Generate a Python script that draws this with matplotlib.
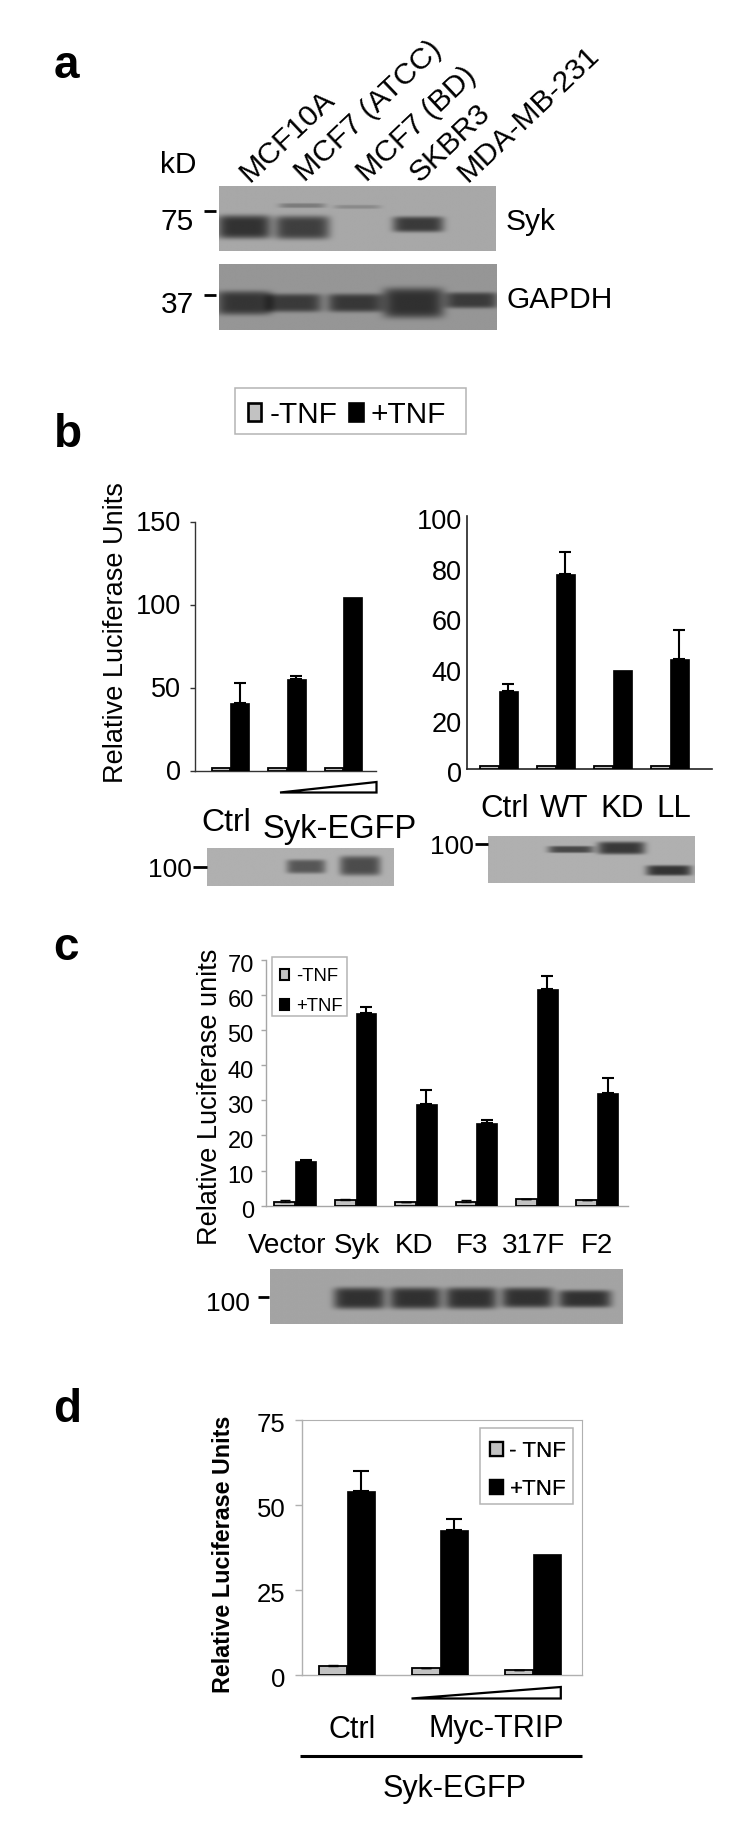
import numpy as np
import matplotlib
matplotlib.use("Agg")
import matplotlib.pyplot as plt
from matplotlib.patches import Patch, Polygon, Rectangle
from matplotlib.transforms import ScaledTranslation

plt.rcParams['font.family'] = ['Liberation Sans', 'DejaVu Sans']

# ---------- data ----------
lanes_a = ["MCF10A", "MCF7 (ATCC)", "MCF7 (BD)", "SKBR3", "MDA-MB-231"]

bl_minus = [2, 2, 2]
bl_plus = [40.8, 55.3, 105]
bl_err = [12.5, 1.7, 0]

br_labels = ["Ctrl", "WT", "KD", "LL"]
br_minus = [1.5, 1.5, 1.5, 1.5]
br_plus = [30.9, 77, 39.3, 43.7]
br_err = [2.6, 8.8, 0, 11.4]

c_labels = ["Vector", "Syk", "KD", "F3", "317F", "F2"]
c_minus = [1.1, 1.5, 1.1, 1.1, 2.0, 1.5]
c_minus_err = [0.4, 0.4, 0, 0.4, 0, 0]
c_plus = [12.7, 54.8, 29.0, 23.6, 61.5, 32.0]
c_err = [0.4, 1.7, 3.8, 0.8, 3.8, 4.3]

d_minus = [2.45, 2.0, 1.4]
d_minus_err = [0.45, 0, 0]
d_plus = [53.9, 42.7, 35.5]
d_err = [6.0, 3.2, 0]

# blot bands: lane centre, half width, row centre, half height, darkness
syk_bands = [(.09, .092, .63, .15, 118), (.30, .095, .64, .15, 105), (.30, .08, .30, .03, 45),
             (.50, .08, .32, .025, 30), (.72, .088, .59, .10, 110)]
gapdh_bands = [(.09, .095, .59, .15, 97), (.27, .095, .59, .115, 92), (.49, .095, .59, .115, 95),
               (.70, .105, .59, .19, 102), (.91, .09, .55, .10, 92)]
b1_bands = [(.53, .10, .50, .15, 90), (.82, .105, .48, .21, 100)]
b2_bands = [(.40, .105, .30, .06, 105), (.645, .11, .27, .11, 120), (.875, .105, .74, .09, 125)]
c_bands = [(.253, .07, .54, .16, 115), (.412, .07, .54, .16, 115), (.57, .07, .54, .16, 115),
           (.73, .07, .53, .15, 115), (.893, .072, .55, .13, 115)]

W, H = 750, 1827
GRAY = '#c2c2c2'
fig = plt.figure(figsize=(W / 100, H / 100), dpi=100, facecolor='white')


def axes_px(x0, y0, x1, y1, **kw):
    return fig.add_axes([x0 / W, 1 - y1 / H, (x1 - x0) / W, (y1 - y0) / H], **kw)


def gel(x0, y0, x1, y1, bands, bg):
    ax = axes_px(x0, y0, x1, y1)
    yy, xx = np.mgrid[0:1:200j, 0:1:400j]
    img = np.full(xx.shape, float(bg))
    for xc, hw, yc, hh, dark in bands:
        img -= dark * np.exp(-(np.abs(xx - xc) / (hw * 1.05)) ** 6) * np.exp(-(np.abs(yy - yc) / (hh * 1.2)) ** 5)
    ax.imshow(img, cmap='gray', vmin=0, vmax=255, extent=(0, 1, 1, 0), aspect='auto',
              interpolation='bilinear')
    ax.axis('off')
    return ax


def bars(ax, minus, plus, err, width, cap, minus_err=None):
    x = np.arange(len(plus))
    ax.bar(x - width / 2, minus, width, color=GRAY, edgecolor='black', linewidth=1.3,
           zorder=3, yerr=None if minus_err is None else [np.zeros(len(minus)), minus_err],
           error_kw=dict(ecolor='black', elinewidth=1.0, capsize=3.5, capthick=1.0))
    keep = np.array(err) > 0
    ax.bar(x + width / 2, plus, width, color='black', edgecolor='black', linewidth=0.5, zorder=3)
    ax.errorbar((x + width / 2)[keep], np.array(plus)[keep], yerr=[np.zeros(keep.sum()), np.array(err)[keep]],
                fmt='none', ecolor='black', elinewidth=1.5, capsize=cap, capthick=1.5, zorder=2)
    ax.set_xticks([])
    ax.patch.set_alpha(0)


def shift_labels(ax, dy_px):
    off = ScaledTranslation(0, -dy_px / 100, fig.dpi_scale_trans)
    for lab in ax.get_yticklabels():
        lab.set_transform(lab.get_transform() + off)


def style(ax, color, lw, ticklen, pad, size, dy):
    ax.spines[['top', 'right']].set_visible(False)
    ax.spines[['left', 'bottom']].set_color(color)
    ax.spines[['left', 'bottom']].set_linewidth(lw)
    ax.tick_params(axis='y', color=color, width=lw, length=ticklen, pad=pad, labelsize=size)
    shift_labels(ax, dy)


# ---------- panel a blots ----------
gel(219, 186, 496, 251, syk_bands, 168)
gel(219, 264, 497, 330, gapdh_bands, 150)

# ---------- panel b left ----------
axl = axes_px(195, 522.3, 375.6, 771)
bars(axl, bl_minus, bl_plus, bl_err, 0.33, 4.3)
axl.set_xlim(-0.627, 2.57)
axl.set_ylim(0, 150)
axl.set_yticks([0, 50, 100, 150])
style(axl, '#333333', 1.0, 3.6, 6.5, 19.5, -1)
axl.set_ylabel('Relative Luciferase Units', fontsize=19.5)
axl.yaxis.set_label_coords(-0.363, 0.557)
gel(206.7, 848, 393.3, 886.3, b1_bands, 176)

# ---------- panel b right ----------
axr = axes_px(466.5, 516, 711.5, 769.3)
bars(axr, br_minus, br_plus, br_err, 0.33, 4.3)
axr.set_xlim(-0.57, 3.73)
axr.set_ylim(0, 100)
axr.set_yticks([0, 20, 40, 60, 80, 100])
style(axr, '#222222', 1.2, 0, 3.5, 19.5, 3)
gel(488, 835.7, 694.7, 883.3, b2_bands, 176)

# ---------- panel c ----------
axc = axes_px(266, 959.5, 628, 1205.7)
bars(axc, c_minus, c_plus, c_err, 0.345, 4.6, c_minus_err)
axc.set_xlim(-0.483, 5.51)
axc.set_ylim(0, 70)
axc.set_yticks(np.arange(0, 71, 10))
style(axc, '#a6a6a6', 1.0, 3.8, 5, 17, 4)
axc.set_ylabel('Relative Luciferase units', fontsize=19.5)
axc.yaxis.set_label_coords(-0.120, 0.443)
gel(270.3, 1269, 622.5, 1324.3, c_bands, 164)

# ---------- panel d ----------
axd = axes_px(302, 1419.7, 582, 1674.7)
bars(axd, d_minus, d_plus, d_err, 0.3, 5.6, d_minus_err)
axd.set_xlim(-0.477, 2.523)
axd.set_ylim(0, 75)
axd.set_yticks([0, 25, 50, 75])
style(axd, '#b0b0b0', 1.0, 5, 6.8, 18.5, 3)
axd.spines[['top', 'right']].set_visible(True)
axd.spines[['top', 'right']].set_color('#b0b0b0')
axd.set_ylabel('Relative Luciferase Units', fontsize=16.8, fontweight='bold')
axd.yaxis.set_label_coords(-0.238, 0.474)

# ---------- overlay in pixel coordinates ----------
ov = axes_px(0, 0, W, H, zorder=20)
ov.set_xlim(0, W)
ov.set_ylim(H, 0)
ov.axis('off')


def T(x, y, s, size, ha='center', va='center', **kw):
    ov.text(x, y + size * 0.1, s, fontsize=size, ha=ha, va=va, color='black', **kw)


def dash(x0, x1, y, lw=2.0):
    ov.plot([x0, x1], [y, y], color='black', lw=lw, solid_capstyle='butt')


def box(x0, y0, x1, y1):
    ov.add_patch(Rectangle((x0, y0), x1 - x0, y1 - y0, fc='white', ec='#b4b4b4', lw=1.1))


def legend(labels, x, y, size, hl, hh, lw, tp, ncol=1, cs=0.3, ls=0.7):
    handles = [Patch(fc=GRAY, ec='black', lw=lw, label=labels[0]),
               Patch(fc='black', ec='black', lw=lw, label=labels[1])]
    lg = ov.legend(handles=handles, loc='upper left', bbox_to_anchor=(x, y), bbox_transform=ov.transData,
                   ncol=ncol, fontsize=size, frameon=False, handlelength=hl, handleheight=hh,
                   handletextpad=tp, columnspacing=cs, labelspacing=ls, borderpad=0, borderaxespad=0)
    ov.add_artist(lg)
    return lg


for lab, x, s in zip(['a', 'b', 'c', 'd'], [66, 68, 66, 67], [63, 432, 945, 1407]):
    T(x, s, lab, 33, fontweight='bold')

# a
for lab, x in zip(lanes_a, [250, 305, 367, 420, 468]):
    ov.text(x, 183, lab, fontsize=21.8, rotation=43.5, rotation_mode='anchor', ha='left', va='baseline')
T(178.7, 163, 'kD', 21.5)
T(177.5, 220, '75', 21.5)
T(177.5, 303, '37', 21.5)
dash(204, 216, 211)
dash(204, 216, 295)
T(506, 220, 'Syk', 21.5, ha='left')
T(506, 298, 'GAPDH', 21.5, ha='left')

# b
box(235, 388.3, 465.7, 434.3)
legend(['-TNF', '+TNF'], 248, 401, 21.5, 0.44, 0.55, 1.9, 0.28, ncol=2, cs=0.4)
ov.add_patch(Polygon([(280, 792.5), (376.5, 782), (376.5, 792.5)], closed=True, fc='white', ec='black', lw=1.6))
T(226, 820.7, 'Ctrl', 23)
T(340, 826.7, 'Syk-EGFP', 23.5)
for lab, x in zip(br_labels, [505, 564.6, 622, 673.7]):
    T(x, 807, lab, 22.5)
T(191.4, 868, '100', 19, ha='right')
dash(193, 206.7, 867)
T(473.7, 845, '100', 19, ha='right')
dash(474.6, 488, 844)

# c
box(272.3, 957.3, 346.7, 1016)
legend(['-TNF', '+TNF'], 280, 968, 13.3, 0.49, 0.49, 1.5, 0.38, ls=0.7)
for lab, x in zip(c_labels, [287, 357, 414, 472, 533.5, 596.6]):
    T(x, 1244, lab, 20)
T(250, 1301.7, '100', 19, ha='right')
dash(258.4, 269.4, 1297)

# d
box(480, 1428, 572.7, 1504)
legend(['- TNF', '+TNF'], 490, 1441, 16.1, 0.57, 0.57, 1.6, 0.3, ls=0.75)
ov.add_patch(Polygon([(411.5, 1698.5), (560.8, 1687), (560.8, 1698.5)], closed=True, fc='white', ec='black', lw=1.6))
T(351.7, 1727.3, 'Ctrl', 22)
T(496.7, 1727.3, 'Myc-TRIP', 22)
ov.plot([300, 582], [1756, 1756], color='black', lw=2.2, solid_capstyle='butt')
T(454.5, 1786.7, 'Syk-EGFP', 22)

fig.savefig('out.png', dpi=100, facecolor='white')
